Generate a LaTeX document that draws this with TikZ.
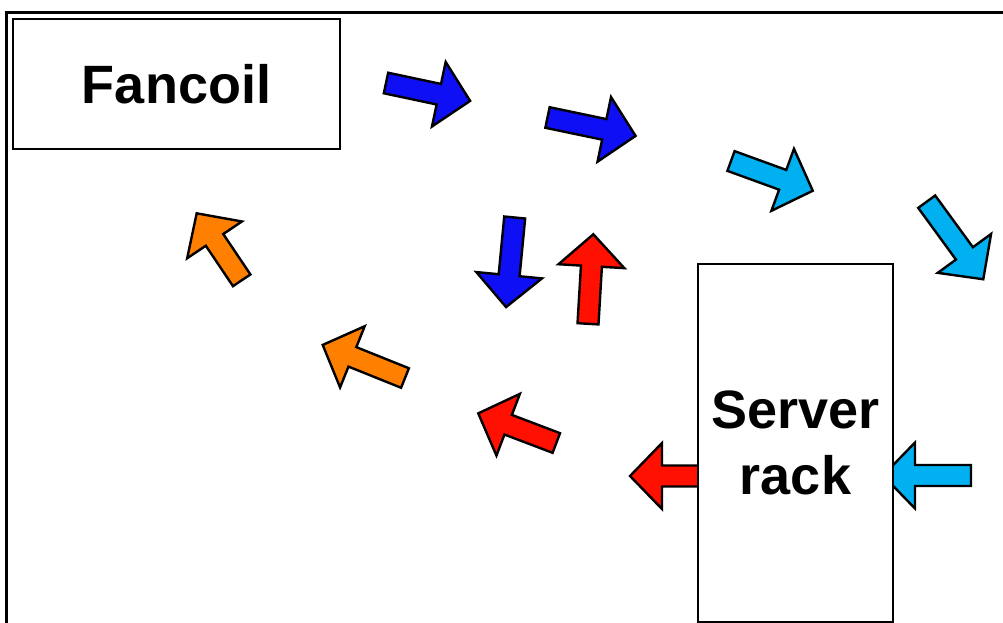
\documentclass[tikz,border=0pt]{standalone}
\usepackage{fontspec}
\setmainfont{Liberation Sans}
\definecolor{dblue}{RGB}{15,15,245}
\definecolor{lblue}{RGB}{0,176,240}
\definecolor{hred}{RGB}{255,16,0}
\definecolor{horange}{RGB}{255,128,0}
\tikzset{
  arrowline/.style={draw=black, line width=2.4pt, line join=miter},
  pics/blockarrow/.style n args={2}{code={
    \draw[arrowline, fill=#1] (0,-10.5) -- ({#2-32},-10.5) -- ({#2-32},-33) -- (#2,0)
      -- ({#2-32},33) -- ({#2-32},10.5) -- (0,10.5) -- cycle;
  }},
  box/.style={draw=black, fill=white, line width=1.5pt, inner sep=0pt,
    font=\fontsize{54}{66}\selectfont\bfseries, align=center},
  wall/.style={draw=black, line width=3.2pt}
}
\begin{document}
\begin{tikzpicture}[x=1pt, y=1pt]
\useasboundingbox (0,0) rectangle (1003,-623);
% room walls
\coordinate (wtr) at (1003,-12.5);
\coordinate (wtl) at (5,-12.5);
\coordinate (wl1) at (6.7,-11);
\coordinate (wl2) at (6.7,-623);
\draw[wall] (wtl) -- (wtr);
\draw[wall] (wl1) -- (wl2);
% air flow arrows
\pic[rotate=-12] (a1) at (386,-83) {blockarrow={dblue}{86}};
\pic[rotate=-11.8] (a2) at (547.5,-117.5) {blockarrow={dblue}{90}};
\pic[rotate=-20] (a3) at (731,-161) {blockarrow={lblue}{87}};
\pic[rotate=-53.9] (a4) at (926.7,-201.7) {blockarrow={lblue}{96}};
\pic[rotate=180] (a5) at (971,-475.5) {blockarrow={lblue}{88}};
\pic[rotate=180] (a6) at (705,-476) {blockarrow={hred}{75}};
\pic[rotate=159.2] (a7) at (556.3,-443) {blockarrow={hred}{83.5}};
\pic[rotate=158.1] (a8) at (405,-378) {blockarrow={horange}{88.7}};
\pic[rotate=123.9] (a9) at (241.7,-280.3) {blockarrow={horange}{80.7}};
\pic[rotate=-95.5] (a10) at (514.7,-217.5) {blockarrow={dblue}{90}};
\pic[rotate=86.6] (a11) at (588,-323.8) {blockarrow={hred}{89.7}};
% boxes
\node[box, minimum width=327pt, minimum height=130pt] (fancoil) at (176.5,-84) {Fancoil};
\node[box, minimum width=195pt, minimum height=358pt] (rack) at (795.5,-443) {Server\\rack};
\end{tikzpicture}
\end{document}
